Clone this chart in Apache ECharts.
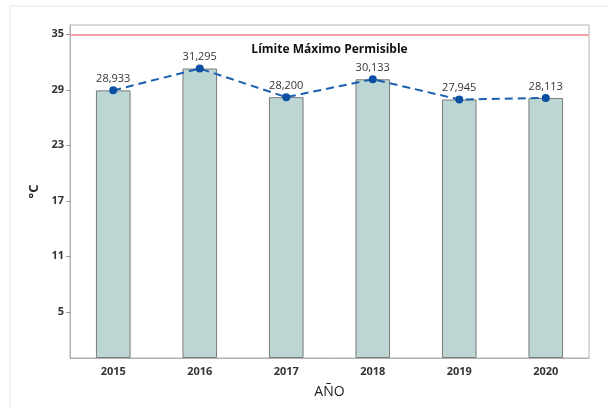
<!DOCTYPE html>
<html>
<head>
<meta charset="utf-8">
<script src="https://cdn.jsdelivr.net/npm/echarts@6/dist/echarts.min.js"></script>
<style>
  html, body { margin: 0; padding: 0; background: #fff; }
  #chart { width: 607px; height: 407px; }
</style>
</head>
<body>
<div id="chart"></div>
<script>
// Yearly mean temperature (°C) and the permitted maximum
const years = ['2015', '2016', '2017', '2018', '2019', '2020'];
const temps = [28.933, 31.295, 28.200, 30.133, 27.945, 28.113];
const limitValue = 35;
const limitText = 'Límite Máximo Permisible';
const yTicks = [5, 11, 17, 23, 29, 35];

const FONT = '"Open Sans", "Noto Sans", sans-serif';
const fmt = v => v.toFixed(3).replace('.', ',');

const chart = echarts.init(document.getElementById('chart'), null, { renderer: 'canvas' });

chart.setOption({
  backgroundColor: '#fff',
  animation: false,
  textStyle: { fontFamily: FONT },
  graphic: [{
    type: 'rect',
    shape: { x: 10, y: 6, width: 620, height: 420 },
    style: { fill: 'none', stroke: '#e3e3e3', lineWidth: 1 },
    silent: true
  }],
  grid: {
    left: 70, right: 18, top: 25, bottom: 49,
    show: true, borderColor: '#b4b4b4', borderWidth: 1
  },
  xAxis: {
    type: 'category',
    data: years,
    name: 'AÑO',
    nameLocation: 'middle',
    nameGap: 27,
    nameTextStyle: { fontFamily: FONT, fontSize: 14, color: '#222' },
    axisLine: { lineStyle: { color: '#b0b0b0' } },
    axisTick: { show: false },
    axisLabel: { fontFamily: FONT, fontSize: 11, fontWeight: 'bold', color: '#333', margin: 8 }
  },
  yAxis: {
    type: 'value',
    min: 0,
    max: 36,
    name: '°C',
    nameLocation: 'middle',
    nameGap: 27,
    nameRotate: 90,
    nameTextStyle: { fontFamily: FONT, fontSize: 13, fontWeight: 'bold', color: '#222' },
    axisLine: { show: true, lineStyle: { color: '#b0b0b0' } },
    axisTick: { show: true, length: 4, customValues: yTicks, lineStyle: { color: '#999' } },
    axisLabel: { customValues: yTicks, fontFamily: FONT, fontSize: 11, fontWeight: 'bold', color: '#333', margin: 6 },
    splitLine: { show: false }
  },
  series: [
    {
      type: 'bar',
      data: temps,
      barWidth: '40%',
      itemStyle: { color: '#bcd7d3', borderColor: '#7b7b7b', borderWidth: 1 },
      markLine: {
        silent: true,
        symbol: 'none',
        data: [{ yAxis: limitValue }],
        lineStyle: { color: '#f2a3a6', width: 2, type: 'solid' },
        label: {
          show: true,
          position: 'insideMiddleBottom',
          distance: 9,
          formatter: limitText,
          fontFamily: FONT,
          fontSize: 12,
          fontWeight: 'bold',
          color: '#111'
        }
      }
    },
    {
      type: 'line',
      data: temps,
      symbol: 'circle',
      symbolSize: 8,
      itemStyle: { color: '#0b4fa3' },
      lineStyle: { color: '#1a5fb0', width: 2, type: [8, 5] },
      label: {
        show: true,
        position: 'top',
        distance: 2,
        formatter: p => fmt(p.value),
        fontFamily: FONT,
        fontSize: 11,
        color: '#333'
      },
      z: 5
    }
  ]
});
</script>
</body>
</html>
